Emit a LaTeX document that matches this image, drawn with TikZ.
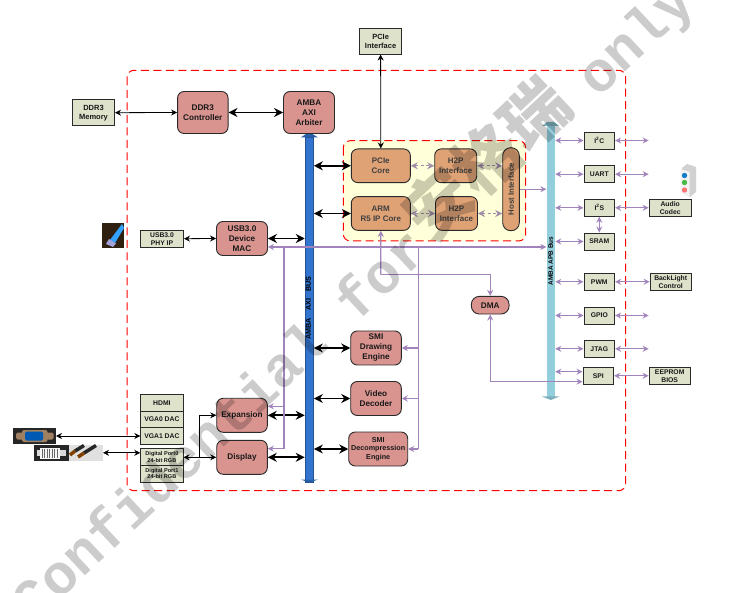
\documentclass[tikz,border=0pt]{standalone}
\usepackage{fontspec}
\setmainfont{Liberation Sans}
\newfontfamily\wmfont{Liberation Mono}
\newfontfamily\cjkwm{Noto Sans CJK SC}
\usetikzlibrary{arrows.meta}
\definecolor{rosefill}{HTML}{D9948F}
\definecolor{orangefill}{HTML}{DFA275}
\definecolor{creamfill}{HTML}{DEE2CB}
\definecolor{regionfill}{HTML}{FFFFD9}
\definecolor{axiblue}{HTML}{3374CE}
\definecolor{apbblue}{HTML}{93CEDD}
\definecolor{purp}{HTML}{A184BC}
\definecolor{purpdash}{HTML}{A08EA8}
\definecolor{edge}{HTML}{2A2A2A}
\tikzset{
  base/.style={draw=edge,line width=0.9pt,inner sep=0pt,align=center,text=black!90},
  rosebox/.style={base,fill=rosefill,rounded corners=6.5pt,font=\bfseries\fontsize{8.2}{10}\selectfont},
  orangebox/.style={base,fill=orangefill,rounded corners=6.5pt,text=black!75,font=\bfseries\fontsize{8}{10}\selectfont},
  creambox/.style={base,fill=creamfill,line width=0.9pt,font=\bfseries\fontsize{7.5}{9}\selectfont},
  smallbox/.style={creambox,font=\bfseries\fontsize{6.8}{8}\selectfont},
  tinybox/.style={creambox,font=\bfseries\fontsize{5.6}{6.8}\selectfont},
  buslabel/.style={inner sep=0pt,rotate=90,text=black,font=\bfseries\fontsize{7.2}{8}\selectfont},
  thinline/.style={black,line width=0.8pt,{Stealth[length=6pt,width=6pt]}-{Stealth[length=6pt,width=6pt]}},
  thickline/.style={black,line width=1.9pt,{Stealth[length=9pt,width=9pt]}-{Stealth[length=9pt,width=9pt]}},
  purpline/.style={purp,line width=1.2pt,{Stealth[length=6pt,width=6pt]}-{Stealth[length=6pt,width=6pt]}},
  purpto/.style={purp,line width=1.2pt,-{Stealth[length=6pt,width=6pt]}},
  purpplain/.style={purp,line width=1.2pt},
  dashlink/.style={purpdash,line width=1.1pt,dash pattern=on 3pt off 2.5pt,{Stealth[length=7pt,width=7pt]}-{Stealth[length=7pt,width=7pt]}},
  reddash/.style={red,line width=1pt,dash pattern=on 8pt off 4.5pt,rounded corners=7pt},
}
\begin{document}
\begin{tikzpicture}[x=1pt,y=-1pt]
\useasboundingbox (0,0) rectangle (739,593);
% regions
\draw[reddash] (127,70.3) rectangle (625.7,490.7);
\draw[reddash,fill=regionfill] (343.3,140.7) rectangle (525.7,241);
% buses
\node[fill=axiblue,draw=axiblue!70!black,line width=0.4pt,inner sep=0pt,minimum width=8.7pt,minimum height=345pt] (axi) at (309.3,309.5) {};
\fill[axiblue!80!black] (300.7,137.5) -- (306,134) -- (312.5,134) -- (318,137.5) -- cycle;
\fill[axiblue!80!black] (300.7,479.5) -- (318,479.5) -- (309.3,482.5) -- cycle;
\node[fill=apbblue,inner sep=0pt,minimum width=8.5pt,minimum height=274pt] (apb) at (550.8,261) {};
\fill[apbblue!85!black] (542,126) -- (547,122) -- (554,122) -- (559.3,126) -- cycle;
\fill[apbblue!85!black] (542,396.5) -- (559.3,396.5) -- (550.8,400) -- cycle;
\node[buslabel] (axilab) at (308.3,308) {AMBA\hspace{5pt} AXI\hspace{5pt} BUS};
\node[buslabel,font=\bfseries\fontsize{6.4}{7}\selectfont] (apblab) at (550.6,261) {AMBA APB Bus};
% rose boxes
\node[rosebox,minimum width=50.5pt,minimum height=42pt] (ddrc) at (202.8,112.5) {DDR3\\Controller};
\node[rosebox,minimum width=51pt,minimum height=42pt] (arb) at (309,112.5) {AMBA\\AXI\\Arbiter};
\node[rosebox,minimum width=51pt,minimum height=34pt] (mac) at (242,238.5) {USB3.0\\Device\\MAC};
\node[rosebox,minimum width=50.6pt,minimum height=34pt] (exp) at (242,415.3) {Expansion};
\node[rosebox,minimum width=50.6pt,minimum height=34pt] (disp) at (242,457.3) {Display};
\node[rosebox,minimum width=50.6pt,minimum height=34pt] (smid) at (376,348) {SMI\\Drawing\\Engine};
\node[rosebox,minimum width=50.6pt,minimum height=34pt] (video) at (376,398.5) {Video\\Decoder};
\node[rosebox,minimum width=59pt,minimum height=34pt,font=\bfseries\fontsize{7.2}{8.6}\selectfont] (smic) at (378.2,449) {SMI\\Decompression\\Engine};
\node[rosebox,minimum width=37.7pt,minimum height=17.7pt,rounded corners=8pt] (dma) at (490.2,305.2) {DMA};
% orange boxes
\node[orangebox,minimum width=59pt,minimum height=33.7pt] (pcore) at (380.8,165.8) {PCIe\\Core};
\node[orangebox,minimum width=59pt,minimum height=33.7pt] (arm) at (380.8,213.5) {ARM\\R5 IP Core};
\node[orangebox,minimum width=42pt,minimum height=33.7pt] (h2pa) at (455.7,165.8) {H2P\\Interface};
\node[orangebox,minimum width=42pt,minimum height=33.7pt] (h2pb) at (456.5,213.5) {H2P\\Interface};
\node[orangebox,minimum width=16.6pt,minimum height=83pt,rounded corners=8pt] (host) at (511,189.2) {};
\node[inner sep=0pt,rotate=90,text=black!75,font=\bfseries\fontsize{7.8}{9}\selectfont] (hostlab) at (511,189.2) {Host Interface};
% cream boxes
\node[creambox,minimum width=42.2pt,minimum height=25.5pt] (ddrm) at (93.5,112.7) {DDR3\\Memory};
\node[creambox,minimum width=42.2pt,minimum height=25.7pt] (pcif) at (380.6,41.2) {PCIe\\Interface};
\node[smallbox,minimum width=43pt,minimum height=17pt] (phy) at (162,238.7) {USB3.0\\PHY IP};
\node[smallbox,minimum width=42.3pt,minimum height=16.7pt] (hdmi) at (161.9,402.7) {HDMI};
\node[smallbox,minimum width=42.3pt,minimum height=17pt] (vga0) at (161.9,419.5) {VGA0 DAC};
\node[smallbox,minimum width=42.3pt,minimum height=16.7pt] (vga1) at (161.9,436.3) {VGA1 DAC};
\node[tinybox,minimum width=42.3pt,minimum height=16.4pt] (dp0) at (161.9,456.9) {Digital Port0\\24-bit RGB};
\node[tinybox,minimum width=42.3pt,minimum height=17pt] (dp1) at (161.9,473.5) {Digital Port1\\24-bit RGB};
\node[smallbox,minimum width=30.7pt,minimum height=17pt] (i2c) at (599.3,140.5) {I\textsuperscript{2}C};
\node[smallbox,minimum width=30.7pt,minimum height=17pt] (uart) at (599.3,174.2) {UART};
\node[smallbox,minimum width=30.7pt,minimum height=17pt] (i2s) at (599.3,207.8) {I\textsuperscript{2}S};
\node[smallbox,minimum width=30.7pt,minimum height=17pt] (sram) at (599.3,241.5) {SRAM};
\node[smallbox,minimum width=30.7pt,minimum height=17pt] (pwm) at (599.3,281.8) {PWM};
\node[smallbox,minimum width=30.7pt,minimum height=17pt] (gpio) at (599.3,315.5) {GPIO};
\node[smallbox,minimum width=30.7pt,minimum height=17pt] (jtag) at (599.3,348.8) {JTAG};
\node[smallbox,minimum width=30.7pt,minimum height=17pt] (spi) at (598.3,375.8) {SPI};
\node[smallbox,minimum width=42.3pt,minimum height=17pt] (codec) at (670.2,207.8) {Audio\\Codec};
\node[smallbox,minimum width=41.3pt,minimum height=17pt] (blight) at (670.7,281.8) {BackLight\\Control};
\node[smallbox,minimum width=41.3pt,minimum height=17pt] (eeprom) at (669.7,375.8) {EEPROM\\BIOS};
% free ends and junctions
\coordinate (exti2c) at (648.7,140.5);
\coordinate (extuart) at (648.7,174.2);
\coordinate (extgpio) at (648.7,315.5);
\coordinate (extjtag) at (648.7,348.8);
\coordinate (busy) at (284,247);
\coordinate (jarm) at (380.7,247);
\coordinate (jdec) at (418.3,247);
\coordinate (jdma) at (380.7,274.7);
\coordinate (jdec2) at (418.3,274.7);
\coordinate (jdmat) at (490.2,274.7);
\coordinate (jdmab) at (490.2,381.7);
\coordinate (jspi) at (490.2,371.7);
\coordinate (jsmi) at (418.3,449);
\coordinate (jdisp) at (284,448.7);
\coordinate (jexp) at (284,406.3);
\coordinate (jport) at (199.7,457.3);
\coordinate (jportup) at (199.7,415.3);
\coordinate (vgaend) at (56,436);
\coordinate (dviend) at (103,452.8);
% icons
\fill[black!75!brown] (102,223) rectangle (124,248);
\fill[blue!45!cyan!80!white] (122,224) -- (124,228) -- (115,243) -- (110,240) -- cycle;
\fill[blue!30!white!70!gray] (109,239) -- (116,243.5) -- (113,247) -- (106,244) -- cycle;
\fill[black!85] (13.3,428.3) rectangle (56,443.7);
\fill[brown!50!gray,rounded corners=1.5pt] (16,432.5) rectangle (53.5,439.5);
\fill[brown!50!gray,rounded corners=2pt] (22,430) rectangle (47.5,442);
\fill[blue!50!cyan!70!black,rounded corners=1.5pt] (25,431.5) rectangle (43,440.5);
\fill[black!85] (34,445) rectangle (69,460.7);
\fill[black!15] (37,450) rectangle (66,456);
\fill[white!92!gray] (40,447.5) rectangle (60,458.5);
\foreach \u in {42,44.5,...,58}{\draw[black!60,line width=0.5pt] (\u,448.5) -- (\u,457.5);}
\fill[black!12] (69,445) rectangle (102.7,460.7);
\draw[black!85,line width=3.5pt] (96,445.5) -- (84,453);
\draw[black!85,line width=3.5pt] (84,445.5) -- (75,451);
\draw[orange!50!black,line width=3.5pt] (84,453) -- (78,457);
\draw[orange!50!black,line width=3.5pt] (75,451) -- (70,455);
% audio icon
\fill[black!18] (682,168) -- (687,164) -- (696,167) -- (696,192) -- (690,197) -- (682,193) -- cycle;
\fill[white!90!gray] (680.5,169) -- (689.5,172) -- (689.5,197) -- (680.5,193) -- cycle;
\fill[cyan!60!blue] (684.5,175.5) circle (2.7pt);
\fill[green!45!gray] (684.5,182.5) circle (2.7pt);
\fill[red!40!pink] (684.5,190) circle (2.7pt);
% black connectors
\draw[thinline] (ddrm.east) -- (ddrc.west);
\draw[thickline] (ddrc.east) -- (arb.west);
\draw[thinline] (pcif.south) -- (pcore.north);
\draw[thinline] (phy.east) -- (mac.west);
\draw[thickline] (mac.east) -- (mac.east -| axi.west);
\draw[thickline] (axi.east |- pcore.west) -- (pcore.west);
\draw[thickline] (axi.east |- arm.west) -- (arm.west);
\draw[thickline] (axi.east |- smid.west) -- (smid.west);
\draw[thickline] (axi.east |- video.west) -- (video.west);
\draw[thickline] (axi.east |- smic.west) -- (smic.west);
\draw[thickline] (exp.east) -- (exp.east -| axi.west);
\draw[thickline] (disp.east) -- (disp.east -| axi.west);
\draw[thinline] (vgaend) -- (vga1.west |- vgaend);
\draw[thinline] (dviend) -- (dp0.west |- dviend);
\draw[thinline] (dp0.east |- jport) -- (disp.west);
\draw[black,line width=0.8pt,-{Stealth[length=6pt,width=6pt]}] (jport) -- (jportup) -- (exp.west);
\fill (jexp |- exp.east) circle (1.3pt);
% dashed links
\draw[dashlink] (pcore.east) -- (h2pa.west);
\draw[dashlink] (h2pa.east) -- (host.west |- h2pa.east);
\draw[dashlink] (arm.east) -- (h2pb.west);
\draw[dashlink] (h2pb.east) -- (host.west |- h2pb.east);
% purple connectors
\draw[purpline] (mac.east |- busy) -- (apb.west |- busy);
\draw[purpto] (host.east) -- (apb.west |- host.east);
\draw[purpplain] (busy) -- (jdisp);
\draw[purpto] (jdisp) -- (disp.east |- jdisp);
\draw[purpto] (jexp) -- (exp.east |- jexp);
\draw[purpto] (jdma) -- (jarm) -- (arm.south);
\draw[purpto] (jdma) -- (jdmat) -- (dma.north);
\draw[purpplain] (jdec) -- (jsmi);
\draw[purpto] (jdec |- smid.east) -- (smid.east);
\draw[purpto] (jdec |- video.east) -- (video.east);
\draw[purpto] (jsmi) -- (smic.east);
\fill[purp] (jarm) circle (1.3pt) (jdec2) circle (1.3pt);
\draw[purpto] (jdmab) -- (dma.south);
\draw[purpto] (jdmab) -- (spi.west |- jdmab);
\draw[purpline] (apb.east |- i2c.west) -- (i2c.west);
\draw[purpline] (apb.east |- uart.west) -- (uart.west);
\draw[purpline] (apb.east |- i2s.west) -- (i2s.west);
\draw[purpline] (apb.east |- sram.west) -- (sram.west);
\draw[purpline] (apb.east |- pwm.west) -- (pwm.west);
\draw[purpline] (apb.east |- gpio.west) -- (gpio.west);
\draw[purpline] (apb.east |- jtag.west) -- (jtag.west);
\draw[purpline] (apb.east |- jspi) -- (spi.west |- jspi);
\draw[purpline] (i2c.east) -- (exti2c);
\draw[purpline] (uart.east) -- (extuart);
\draw[purpline] (i2s.east) -- (codec.west);
\draw[purpline] (pwm.east) -- (blight.west);
\draw[purpline] (gpio.east) -- (extgpio);
\draw[purpline] (jtag.east) -- (extjtag);
\draw[purpline] (spi.east) -- (eeprom.west);
\draw[purpline] (i2s.south) -- (sram.north);
% watermark
\begin{scope}
\clip (0,0) rectangle (739,593);
\node[anchor=base west,inner sep=0pt,rotate=43,opacity=0.2,text=black,font=\wmfont\bfseries\fontsize{56.7}{60}\selectfont] (wm) at (33,625) {Confidential for\hspace{6pt}\raisebox{7pt}{\cjkwm\fontsize{66}{66}\selectfont 安格瑞}\hspace{-10pt} only};
\end{scope}
\end{tikzpicture}
\end{document}
